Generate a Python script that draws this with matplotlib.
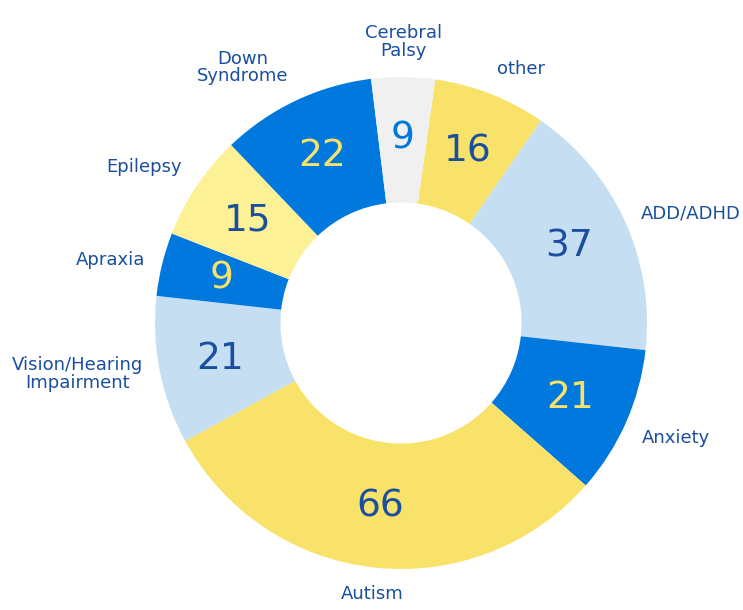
import numpy as np
import matplotlib
matplotlib.use("Agg")
import matplotlib.pyplot as plt

# fatias no sentido horário, começando por "other"
categorias = ["other", "ADD/ADHD", "Anxiety", "Autism", "Vision/Hearing\nImpairment",
              "Apraxia", "Epilepsy", "Down\nSyndrome", "Cerebral\nPalsy"]
valores = [16, 37, 21, 66, 21, 9, 15, 22, 9]

AMARELO = "#F9E26A"
AZUL_CLARO = "#C5DEF1"
AZUL = "#0078DE"
AMARELO_CLARO = "#FDF196"
CINZA = "#F0F0F0"
MARINHO = "#1A4E9F"

cores = [AMARELO, AZUL_CLARO, AZUL, AMARELO, AZUL_CLARO, AZUL, AMARELO_CLARO, AZUL, CINZA]
cores_valor = [MARINHO, MARINHO, AMARELO, MARINHO, MARINHO, AMARELO, MARINHO, AMARELO, AZUL]

fig = plt.figure(figsize=(7.43, 6.10), dpi=100)
ax = fig.add_axes([0, 0, 1, 1])

wedges, _ = ax.pie(valores, colors=cores, startangle=82, counterclock=False,
                   radius=1.0, wedgeprops=dict(width=0.51, linewidth=0))

# pie() redefine os limites, então ajusta depois
raio_px = 246.0
cx, cy = 401.0, 323.0
ax.set_xlim(-cx / raio_px, (743 - cx) / raio_px)
ax.set_ylim(-(610 - cy) / raio_px, cy / raio_px)
ax.set_aspect("equal")
ax.axis("off")

for w, cat, val, cv in zip(wedges, categorias, valores, cores_valor):
    ang = np.deg2rad((w.theta1 + w.theta2) / 2)
    c, s = np.cos(ang), np.sin(ang)
    # valor dentro da fatia
    ax.text(0.75 * c, 0.75 * s, str(val), ha="center", va="center",
            fontsize=27, color=cv)
    # rótulo fora
    if c > 0.15:
        ha = "left"
    elif c < -0.15:
        ha = "right"
    else:
        ha = "center"
    if s > 0.5:
        va = "bottom"
    elif s < -0.35:
        va = "top"
    else:
        va = "center"
    ax.text(1.07 * c, 1.07 * s, cat, ha=ha, va=va, multialignment="center",
            fontsize=13, color=MARINHO, linespacing=0.95)

fig.savefig("out.png", dpi=100)
